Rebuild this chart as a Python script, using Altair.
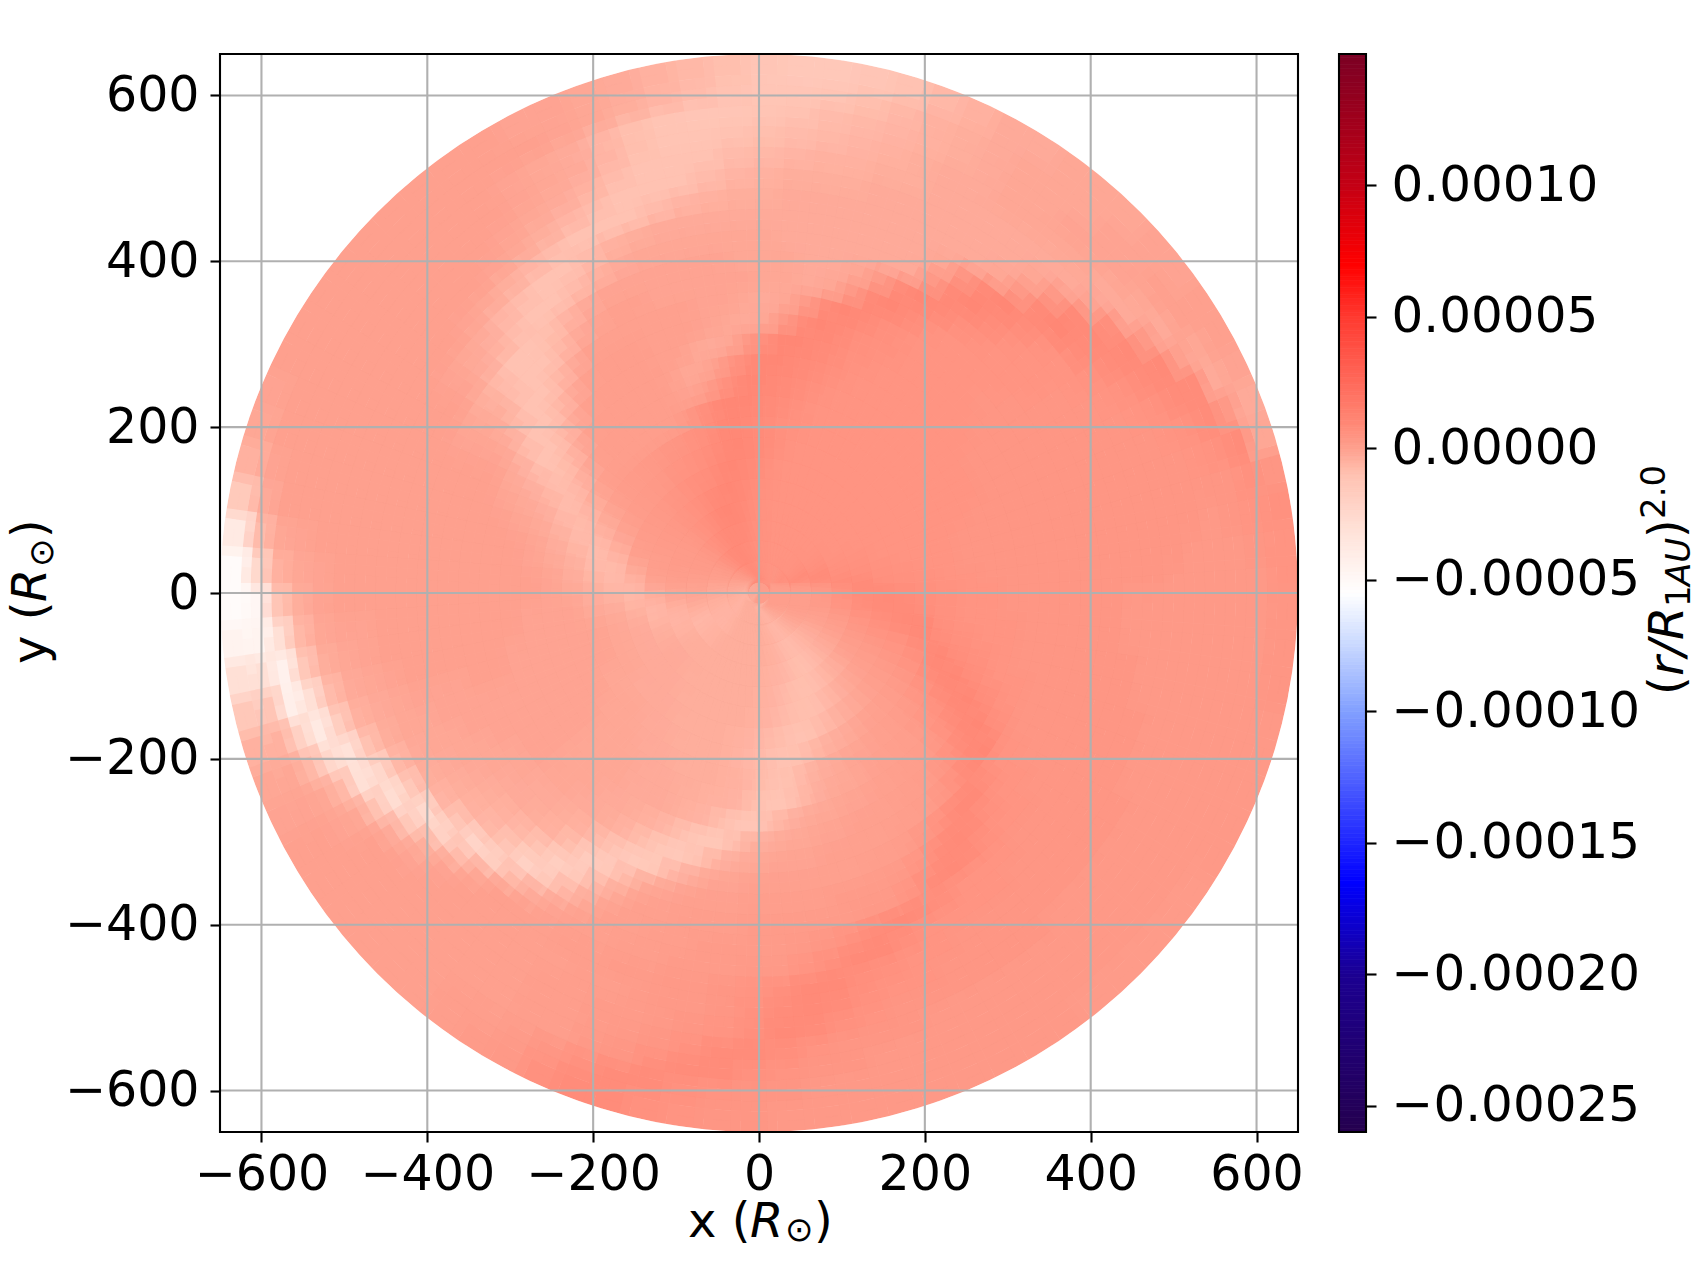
import altair as alt

FONT = "DejaVu Sans"
TICKS = [-600, -400, -200, 0, 200, 400, 600]
CB_TICKS = [0.0001, 0.00005, 0.0, -0.00005, -0.0001, -0.00015, -0.0002, -0.00025]
VMIN, VMAX = -0.00026, 0.000150
STOPS = [-26e-5, -20e-5, -16.5e-5, -10e-5, -7.5e-5, -5.5e-5, -3e-5, -1e-5, 0.0, 1e-5, 5e-5, 7e-5, 10e-5, 15e-5]
COLORS = ["#25004f", "#1c0092", "#0000ff", "#82a0ff", "#c8d8ff", "#ffffff", "#ffe0d6", "#ffc2b2",
          "#fea08e", "#ff8775", "#ff3a30", "#ff0000", "#c40015", "#7b0024"]

RING_CENTRES = [12.5, 37.5, 62.5, 87.5, 112.5, 137.5, 162.5, 187.5, 212.5, 237.5, 262.5, 287.5, 312.5,
                337.5, 362.5, 387.5, 412.5, 437.5, 462.5, 487.5, 512.5, 537.5, 562.5, 587.5, 612.5, 637.5]
RING_HALF = 12.5
SECTOR_STEP = 4

# values, in units of 1e-6; one row per ring, sectors start at angle 0, counter-clockwise
r013 = [2,2,3,3,3,3,3,3,3,3,3,3,3,3,3, 3,3,3,3,4,4,4,4,4,4,5,5,5,5,5, 5,5,4,4,4,3,3,2,1,1,0,0,0,-1,-1, -1,-1,-2,-2,-2,-2,-2,-3,-3,-3,-3,-3,-3,-3,-3, -3,-3,-3,-3,-3,-3,-3,-3,-3,-3,-3,-3,-3,-4,-4, -4,-4,-4,-3,-3,-2,-1,-1,0,0,0,1,1,1,2]
r038 = [1,2,2,3,3,4,4,5,5,6,6,6,7,7,6, 5,5,4,4,4,5,5,5,6,6,6,7,7,7,8, 8,8,8,8,7,6,5,4,3,2,1,1,0,-1,-1, -2,-2,-3,-3,-4,-4,-4,-5,-5,-5,-5,-6,-6,-6,-6, -5,-5,-4,-4,-4,-4,-4,-4,-4,-4,-4,-4,-4,-5,-5, -6,-6,-6,-5,-4,-3,-2,-2,-1,-1,0,0,0,1,1]
r063 = [2,3,4,5,6,7,7,8,8,7,6,6,5,5,5, 5,5,5,5,5,5,5,6,6,6,7,7,8,8,8, 9,9,9,8,8,6,5,4,3,2,1,1,0,0,-1, -2,-2,-3,-3,-4,-5,-5,-5,-6,-6,-6,-6,-6,-6,-5, -5,-4,-4,-4,-4,-4,-4,-4,-4,-4,-4,-4,-5,-5,-6, -7,-7,-7,-6,-5,-4,-3,-2,-1,-1,0,0,1,1,1]
r088 = [4,5,6,7,8,8,8,7,6,6,5,5,5,5,5, 5,5,5,5,5,5,5,6,6,7,7,8,9,9,9, 9,9,8,7,6,5,4,3,3,2,2,2,1,0,0, -1,-1,-2,-3,-4,-5,-6,-7,-7,-6,-6,-5,-5,-5,-4, -4,-4,-4,-4,-4,-4,-4,-4,-4,-4,-4,-5,-5,-6,-7, -8,-8,-8,-7,-6,-5,-4,-3,-2,-1,0,0,1,2,3]
r113 = [7,8,8,8,7,6,6,5,5,5,5,5,5,5,5, 5,5,5,5,5,5,5,6,6,7,8,9,10,10,10, 9,8,7,6,5,4,3,3,2,2,2,2,1,1,0, -1,-2,-3,-5,-6,-6,-6,-5,-5,-4,-4,-4,-4,-4,-4, -4,-4,-4,-4,-4,-4,-4,-4,-4,-5,-5,-6,-6,-7,-8, -9,-9,-8,-7,-6,-4,-3,-2,-1,0,1,2,3,4,6]
r138 = [9,9,8,7,6,6,5,5,5,5,5,5,5,5,5, 5,5,5,5,5,5,6,6,7,8,9,10,10,9,9, 8,7,6,5,4,4,3,3,2,2,1,1,1,0,-1, -3,-5,-6,-7,-6,-5,-4,-4,-3,-3,-3,-3,-4,-4,-4, -4,-4,-4,-4,-4,-4,-4,-4,-5,-5,-6,-7,-8,-9,-9, -9,-8,-7,-5,-4,-3,-1,0,1,2,3,4,5,7,8]
r163 = [8,7,6,6,5,5,5,5,5,5,5,5,5,5,5, 5,5,5,5,5,5,6,7,8,9,10,10,9,8,7, 7,6,5,4,4,3,3,2,2,1,1,0,-2,-4,-6, -7,-7,-5,-4,-3,-3,-3,-3,-3,-3,-3,-3,-3,-4,-4, -4,-4,-4,-4,-4,-4,-4,-5,-5,-6,-7,-8,-9,-9,-9, -8,-6,-5,-3,-2,-1,0,1,2,3,4,6,7,8,9]
r188 = [7,6,6,5,5,5,5,5,5,5,5,5,5,5,5, 5,5,5,5,5,6,7,8,9,10,10,9,8,7,6, 5,5,4,3,3,2,2,1,0,-1,-3,-5,-7,-8,-7, -6,-4,-3,-2,-2,-2,-2,-2,-2,-3,-3,-3,-3,-3,-4, -4,-4,-4,-4,-4,-5,-5,-6,-7,-8,-9,-10,-10,-9,-7, -6,-4,-3,-2,-1,0,1,2,3,4,5,7,9,9,8]
r213 = [6,6,5,5,5,5,5,5,5,5,5,5,5,5,5, 5,5,5,5,6,6,7,8,9,10,10,9,7,6,5, 4,4,3,3,2,2,1,0,-2,-4,-6,-8,-8,-7,-5, -4,-3,-2,-1,-1,-1,-1,-2,-2,-2,-2,-2,-3,-3,-3, -4,-4,-4,-4,-4,-5,-6,-7,-8,-10,-10,-9,-7,-5,-4, -3,-2,-1,0,0,1,2,3,4,6,7,9,10,8,7]
r238 = [6,5,5,5,5,5,5,5,5,5,5,5,5,5,5, 5,5,5,5,6,7,8,9,10,10,10,8,6,3,1, 1,1,1,1,1,1,0,-2,-5,-7,-8,-7,-5,-4,-3, -2,-1,-1,-1,-1,-1,-1,-1,-1,-2,-2,-2,-2,-3,-3, -3,-4,-4,-4,-4,-5,-5,-7,-9,-10,-9,-6,-4,-3,-2, -1,-1,0,0,1,2,3,5,7,9,10,8,7,6,6]
r263 = [5,5,4,4,4,5,5,5,5,5,5,5,5,5,5, 5,5,5,6,7,8,9,10,10,8,5,1,-1,0,1, 1,1,1,1,1,0,-3,-6,-8,-8,-6,-4,-3,-2,-1, -1,-1,-1,-1,-1,-1,-1,-1,-1,-1,-2,-2,-2,-2,-3, -3,-3,-4,-4,-5,-5,-6,-9,-11,-11,-8,-5,-3,-2,-2, -1,0,0,1,1,3,5,7,9,10,8,7,6,5,5]
r288 = [5,4,4,4,4,4,5,5,5,5,5,5,5,5,5, 5,5,6,7,8,9,10,10,8,5,0,-2,-2,0,1, 1,1,1,1,0,-3,-7,-9,-8,-5,-3,-2,-1,-1,0, 0,-1,-1,-1,-1,-1,-1,-1,-1,-1,-2,-2,-2,-2,-3, -3,-3,-4,-5,-6,-9,-12,-12,-8,-5,-3,-2,-2,-1,-1, 0,0,1,1,2,4,7,9,10,8,7,6,5,5,5]
r313 = [4,4,4,4,4,4,4,4,4,5,5,5,5,5,5, 5,6,6,8,9,10,10,7,3,-2,-3,-2,0,0,1, 1,1,1,0,-3,-7,-10,-10,-6,-3,-2,-1,0,0,0, 0,0,0,-1,-1,-1,-1,-1,-1,-1,-2,-2,-2,-3,-3, -4,-5,-7,-10,-13,-13,-8,-4,-3,-2,-2,-1,-1,0,0, 0,1,1,2,4,7,9,10,8,7,5,5,5,5,4]
r338 = [4,4,4,4,4,4,4,4,4,4,5,5,5,5,5, 6,6,7,9,10,8,3,-2,-3,-2,-1,0,0,0,1, 1,1,0,-3,-7,-10,-10,-7,-3,-2,-1,0,0,0,0, 0,0,0,0,0,-1,-1,-1,-1,-1,-2,-2,-3,-3,-4, -6,-9,-13,-14,-10,-5,-3,-2,-1,-1,-1,0,0,0,0, 1,1,2,4,7,9,10,8,6,5,5,4,4,4,4]
r363 = [4,4,4,4,4,4,4,4,4,4,4,5,5,5,5, 6,7,9,10,8,2,-2,-3,-2,-1,-1,0,0,0,0, 0,0,-3,-7,-10,-10,-7,-3,-1,0,0,0,0,0,0, 0,0,0,0,0,-1,-1,-1,-2,-2,-3,-3,-4,-5,-8, -12,-15,-13,-6,-3,-1,-1,0,0,0,0,0,0,1,1, 2,4,7,9,9,7,5,5,4,4,4,4,4,4,4]
r388 = [4,4,4,4,4,4,4,4,4,4,5,5,5,5,6, 8,10,9,3,-2,-3,-2,-2,-1,-1,-1,-1,-1,0,0, -1,-3,-7,-10,-10,-8,-4,-2,-1,0,0,0,0,0,0, 0,0,0,0,-1,-1,-1,-2,-2,-3,-3,-4,-5,-9,-16, -14,-7,-2,-1,0,0,0,1,1,1,1,2,2,2,3, 5,8,9,8,6,5,5,4,4,4,4,4,4,4,4]
r413 = [4,4,4,4,4,4,4,4,4,5,5,5,6,7,9, 10,8,2,-2,-3,-3,-2,-2,-2,-1,-1,-1,-1,-1,-1, -3,-6,-9,-10,-10,-7,-4,-2,-1,0,0,0,0,0,0, 0,0,0,0,-1,-1,-2,-2,-3,-4,-5,-7,-11,-18,-14, -6,-2,0,0,1,1,1,2,2,2,2,2,3,3,5, 8,9,8,6,5,5,4,4,4,4,4,4,4,4,4]
r438 = [4,4,4,4,4,4,4,4,4,5,5,6,8,10,9, 3,-3,-3,-3,-3,-3,-3,-2,-2,-2,-2,-2,-2,-3,-5, -8,-10,-10,-8,-5,-3,-1,0,0,0,0,0,0,0,0, 0,0,0,0,-1,-2,-2,-3,-4,-5,-7,-12,-20,-14,-6, -2,0,0,1,1,2,2,2,2,3,4,6,8,9,8, 7,5,5,5,4,4,4,4,4,4,4,4,4,4,4]
r463 = [4,4,4,4,4,4,4,4,5,5,6,8,10,9,4, -2,-3,-3,-3,-3,-3,-3,-3,-3,-3,-3,-3,-4,-5,-8, -10,-10,-8,-6,-3,-2,-1,0,0,0,0,0,0,0,0, 0,0,0,-1,-2,-2,-3,-4,-6,-12,-22,-18,-7,-3,-1, 0,0,1,1,2,2,2,3,3,5,7,9,9,7,5, 5,5,5,4,4,4,4,4,4,4,4,4,4,3,3]
r488 = [4,4,4,4,4,4,4,5,6,8,10,9,3,-2,-3, -3,-3,-3,-3,-3,-3,-3,-4,-4,-5,-6,-8,-10,-10,-10, -8,-6,-4,-2,-1,0,0,0,0,0,0,0,0,0,0, 0,-1,-1,-2,-3,-4,-7,-14,-25,-20,-8,-2,0,0,0, 1,1,2,2,3,3,4,5,7,9,9,7,6,5,5, 4,4,4,4,4,4,4,4,4,4,4,3,3,3,3]
r513 = [3,4,4,4,4,4,5,6,8,9,9,3,-2,-3,-3, -3,-3,-3,-3,-4,-4,-4,-5,-6,-8,-10,-10,-10,-8,-6, -4,-2,-1,0,0,0,0,0,0,0,0,0,0,0,0, 0,-1,-2,-3,-5,-10,-24,-28,-14,-4,-1,0,0,0,0, 0,1,1,2,3,3,4,6,8,9,8,6,5,5,4, 4,4,4,4,4,4,4,4,3,3,3,3,3,3,3]
r538 = [3,3,4,4,4,5,6,8,9,7,-1,-3,-3,-3,-3, -3,-3,-4,-4,-5,-5,-6,-7,-8,-10,-10,-10,-8,-5,-3, -2,-1,0,0,0,0,0,0,0,0,0,0,0,0,-1, -1,-2,-4,-8,-18,-32,-30,-10,-3,-1,0,0,0,0,0, 1,1,2,2,3,4,5,7,9,8,6,5,4,4,4, 4,4,4,3,3,3,3,3,3,3,3,3,3,3,3]
r563 = [3,3,3,4,5,6,8,9,3,-3,-3,-2,-2,-2,-2, -3,-3,-4,-5,-6,-7,-8,-9,-10,-11,-11,-9,-6,-3,-2, -1,0,0,0,0,0,0,0,0,0,0,0,0,-1,-2, -4,-7,-14,-30,-38,-24,-7,-2,0,0,0,0,0,0,0, 1,1,2,3,4,6,8,8,7,5,4,4,4,3,3, 3,3,3,3,3,3,3,3,3,3,3,3,3,3,3]
r588 = [3,3,4,4,6,8,8,0,-3,-2,-1,-1,-1,-2,-2, -3,-4,-5,-6,-7,-8,-10,-11,-12,-12,-11,-9,-6,-3,-2, -1,0,0,0,0,0,0,0,0,0,0,0,0,-2,-5, -12,-30,-44,-42,-20,-7,-2,-1,0,0,0,0,0,0,0, 1,1,3,4,7,8,8,6,5,4,4,3,3,3,3, 3,3,3,3,3,3,3,3,3,3,3,3,3,3,3]
r613 = [3,4,5,6,8,3,-3,-2,0,0,-1,-1,-2,-2,-2, -3,-4,-5,-7,-9,-11,-12,-12,-10,-8,-6,-4,-2,-1,0, 0,0,0,0,0,0,0,0,0,0,0,-1,-3,-8,-25, -48,-46,-30,-12,-5,-2,-1,0,0,0,0,0,0,1,1, 2,4,6,8,8,6,5,4,4,3,3,3,3,3,3, 3,3,3,3,3,3,3,3,3,3,3,3,3,3,3]
r638 = [5,5,6,4,-2,-3,-1,0,0,-1,-1,-2,-2,-2,-3, -3,-5,-7,-10,-12,-14,-14,-12,-9,-7,-5,-3,-2,-1,-1, 0,0,0,0,0,0,0,0,0,-1,-2,-5,-15,-38,-52, -52,-45,-30,-14,-5,-2,-1,0,0,0,0,0,0,1,2, 3,6,8,8,6,5,4,4,3,3,3,3,3,3,3, 3,3,2,2,2,2,2,3,3,3,3,3,4,4,4]
RINGS = [r013, r038, r063, r088, r113, r138, r163, r188, r213, r238, r263, r288, r313,
         r338, r363, r388, r413, r438, r463, r488, r513, r538, r563, r588, r613, r638]

cells = []
for rc, row in zip(RING_CENTRES, RINGS):
    for i, v in enumerate(row):
        cells.append({"r0": rc - RING_HALF, "r1": rc + RING_HALF,
                      "t0": i * SECTOR_STEP, "t1": (i + 1) * SECTOR_STEP, "v": v * 1e-6})

SIDE = 1078
color_scale = alt.Scale(domain=STOPS, range=COLORS, interpolate="rgb", clamp=True)
xy_scale = alt.Scale(domain=[-650, 650], nice=False, zero=False)
AX = dict(grid=False, domain=False, tickSize=10, tickWidth=2.1, tickColor="black", labelFont=FONT,
          labelFontSize=49, labelColor="black", title=None, values=TICKS, format="d")
theta_scale = alt.Scale(domain=[0, 360], range=[1.570796, -4.712389])
radius_scale = alt.Scale(type="linear", domain=[0, 650], range=[0, SIDE / 2], zero=True)


def part(txt, x, y, angle=0, size=48, style="normal"):
    return alt.Chart().mark_text(text=txt, font=FONT, fontSize=size, fontStyle=style, align="left",
                                 baseline="alphabetic", angle=angle, color="black").encode(
        x=alt.value(x), y=alt.value(y))


arcs = alt.Chart(alt.Data(values=cells)).mark_arc(strokeWidth=20, strokeOpacity=0.5, clip=True).encode(
    theta=alt.Theta("t0:Q", scale=theta_scale),
    theta2="t1:Q",
    radius=alt.Radius("r0:Q", scale=radius_scale),
    radius2="r1:Q",
    color=alt.Color("v:Q", scale=color_scale, legend=None),
    stroke=alt.Stroke("v:Q", scale=color_scale, legend=None),
)
# white surround so that the soft cell edges stop at the disk's rim
rim = alt.Chart(alt.Data(values=[{"r0": 650, "r1": 1000, "t0": 0, "t1": 360}])).mark_arc(color="white", clip=True).encode(
    theta=alt.Theta("t0:Q", scale=theta_scale),
    theta2="t1:Q",
    radius=alt.Radius("r0:Q", scale=radius_scale),
    radius2="r1:Q",
)
tick_data = alt.Data(values=[{"t": t} for t in TICKS])
vgrid = alt.Chart(tick_data).mark_rule(color="#b0b0b0", strokeWidth=2.1).encode(
    x=alt.X("t:Q", scale=xy_scale, axis=alt.Axis(orient="bottom", labelPadding=8, **AX)))
hgrid = alt.Chart(tick_data).mark_rule(color="#b0b0b0", strokeWidth=2.1).encode(
    y=alt.Y("t:Q", scale=xy_scale, axis=alt.Axis(orient="left", labelPadding=11, **AX)))
frame = alt.Chart().mark_rect(filled=False, stroke="black", strokeWidth=2.1).encode(
    x=alt.value(0), x2=alt.value(SIDE), y=alt.value(0), y2=alt.value(SIDE))

main = alt.layer(
    arcs, rim, vgrid, hgrid, frame,
    part("x (", 468, 1183), part("R", 530, 1183, style="italic"), part("⊙", 565, 1187, size=34), part(")", 594, 1183),
    part("y (", -174, 610, angle=270), part("R", -174, 548, angle=270, style="italic"),
    part("⊙", -167, 513, angle=270, size=34), part(")", -174, 484, angle=270),
).properties(width=SIDE, height=SIDE)

LEVELS = 300
step = (VMAX - VMIN) / LEVELS
bar_rows = [{"lo": VMIN + k * step, "hi": VMIN + (k + 1.05) * step, "mid": VMIN + (k + 0.5) * step} for k in range(LEVELS)]
cb_y = alt.Scale(domain=[VMIN, VMAX], nice=False, zero=False)
bar = alt.Chart(alt.Data(values=bar_rows)).mark_rect(strokeWidth=0.6).encode(
    x=alt.value(0), x2=alt.value(27),
    y=alt.Y("lo:Q", scale=cb_y, axis=alt.Axis(orient="right", grid=False, domain=False, tickSize=10, tickWidth=2.1,
                                              tickColor="black", labelFont=FONT, labelFontSize=50, labelColor="black",
                                              labelPadding=15, labelLimit=0, title=None, values=CB_TICKS, format=".5f")),
    y2="hi:Q",
    color=alt.Color("mid:Q", scale=color_scale, legend=None),
    stroke=alt.Stroke("mid:Q", scale=color_scale, legend=None),
)
cb_frame = alt.Chart().mark_rect(filled=False, stroke="black", strokeWidth=2.1).encode(
    x=alt.value(0), x2=alt.value(27), y=alt.value(0), y2=alt.value(SIDE))
cbar = alt.layer(
    bar, cb_frame,
    part("(", 344, 641, angle=270), part("r/R", 344, 622, angle=270, style="italic"),
    part("1", 351, 553, angle=270, size=34), part("AU", 351, 532, angle=270, size=34, style="italic"),
    part(")", 344, 484, angle=270), part("2.0", 326, 465, angle=270, size=34),
).properties(width=27, height=SIDE)

chart = alt.hconcat(main, cbar, spacing=33).properties(
    padding={"left": 0, "top": 44, "right": 0, "bottom": 0}, background="white"
).configure_view(stroke=None)

chart.save("out.html", embed_options={"renderer": "svg", "actions": False})
